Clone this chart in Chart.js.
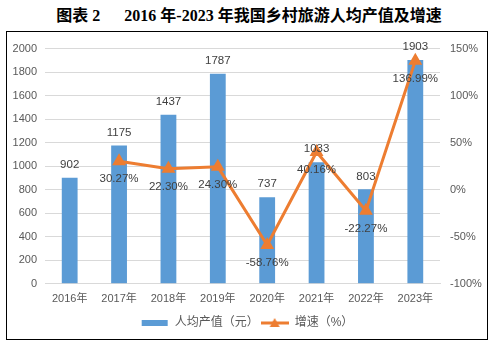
<!DOCTYPE html>
<html>
<head>
<meta charset="utf-8">
<script src="https://cdn.jsdelivr.net/npm/chart.js@4/dist/chart.umd.min.js"></script>
<style>
  body { margin: 0; background: #fff; width: 498px; height: 348px; position: relative; overflow: hidden; }
  #title {
    position: absolute; left: 0; top: 5px; width: 498px; text-align: center;
    font: bold 16px "Liberation Serif", "Noto Sans CJK SC", serif; color: #000;
    white-space: pre; line-height: 22px;
  }
  #box {
    position: absolute; left: 6px; top: 31px; width: 480px; height: 307px;
    border: 1px solid #000;
  }
</style>
</head>
<body>
<div id="title">图表 2      2016 年-2023 年我国乡村旅游人均产值及增速</div>
<div id="box"><canvas id="chart" width="480" height="307"></canvas></div>
<script>
// 数据
const years = ['2016年', '2017年', '2018年', '2019年', '2020年', '2021年', '2022年', '2023年'];
const perCapita = [902, 1175, 1437, 1787, 737, 1033, 803, 1903];
const growth = [null, 30.27, 22.30, 24.30, -58.76, 40.16, -22.27, 136.99];
const growthLabels = [null, '30.27%', '22.30%', '24.30%', '-58.76%', '40.16%', '-22.27%', '136.99%'];

const BLUE = '#5B9BD5';
const ORANGE = '#ED7D31';
const TICK = '#595959';
const FONT = '"Liberation Sans", "Noto Sans CJK SC", sans-serif';

// 图例图标
function legendIcon(kind) {
  const c = document.createElement('canvas');
  c.width = 28; c.height = 12;
  const g = c.getContext('2d');
  if (kind === 'bar') {
    g.fillStyle = BLUE;
    g.fillRect(1, 3, 26, 6);
  } else {
    g.strokeStyle = ORANGE; g.lineWidth = 3;
    g.beginPath(); g.moveTo(0, 6); g.lineTo(28, 6); g.stroke();
    g.fillStyle = ORANGE;
    g.beginPath(); g.moveTo(14, 1); g.lineTo(19, 10); g.lineTo(9, 10); g.closePath(); g.fill();
  }
  return c;
}

// 数据标签
const valueLabels = {
  id: 'valueLabels',
  afterDatasetsDraw(chart) {
    const ctx = chart.ctx;
    ctx.save();
    ctx.font = '11.5px ' + FONT;
    ctx.fillStyle = '#404040';
    ctx.textAlign = 'center';
    ctx.textBaseline = 'middle';
    chart.getDatasetMeta(0).data.forEach((bar, i) => {
      ctx.fillText(String(perCapita[i]), bar.x, bar.y - 13);
    });
    chart.getDatasetMeta(1).data.forEach((pt, i) => {
      if (growth[i] === null) return;
      ctx.fillText(growthLabels[i], pt.x, pt.y + 18);
    });
    ctx.restore();
  }
};

new Chart(document.getElementById('chart'), {
  data: {
    labels: years,
    datasets: [
      {
        type: 'bar',
        label: '人均产值（元）',
        data: perCapita,
        backgroundColor: BLUE,
        barPercentage: 0.4,
        categoryPercentage: 0.8,
        yAxisID: 'y',
        order: 1
      },
      {
        type: 'line',
        label: '增速（%）',
        data: growth,
        borderColor: ORANGE,
        backgroundColor: ORANGE,
        borderWidth: 3,
        pointStyle: 'triangle',
        pointRadius: 5,
        pointBackgroundColor: ORANGE,
        pointBorderColor: ORANGE,
        tension: 0,
        yAxisID: 'y1',
        order: 0
      }
    ]
  },
  options: {
    responsive: false,
    animation: false,
    layout: { padding: { top: 9, bottom: 0, left: 0, right: 0 } },
    plugins: {
      tooltip: { enabled: false },
      legend: {
        position: 'bottom',
        labels: {
          usePointStyle: true,
          pointStyleWidth: 28,
          boxHeight: 12,
          padding: 2,
          color: TICK,
          font: { size: 12, family: FONT },
          generateLabels: () => [
            { text: '人均产值（元）', pointStyle: legendIcon('bar'), datasetIndex: 0, fontColor: TICK, lineWidth: 0, strokeStyle: 'transparent' },
            { text: '增速（%）', pointStyle: legendIcon('line'), datasetIndex: 1, fontColor: TICK, lineWidth: 0, strokeStyle: 'transparent' }
          ]
        }
      }
    },
    scales: {
      x: {
        grid: { display: false, drawTicks: false },
        border: { color: '#d9d9d9' },
        ticks: { color: TICK, font: { size: 11, family: FONT }, padding: 9, maxRotation: 0 }
      },
      y: {
        position: 'left',
        min: 0, max: 2000,
        ticks: { stepSize: 200, color: TICK, font: { size: 11, family: FONT }, padding: 8, callback: (v) => String(v) },
        grid: { color: '#d9d9d9', drawTicks: false },
        border: { display: false },
        afterFit: (s) => { s.width = 38; }
      },
      y1: {
        position: 'right',
        min: -100, max: 150,
        ticks: { stepSize: 50, color: TICK, font: { size: 11, family: FONT }, padding: 10, callback: (v) => v + '%' },
        grid: { display: false, drawTicks: false },
        border: { display: false },
        afterFit: (s) => { s.width = 47; }
      }
    }
  },
  plugins: [valueLabels]
});
</script>
</body>
</html>
